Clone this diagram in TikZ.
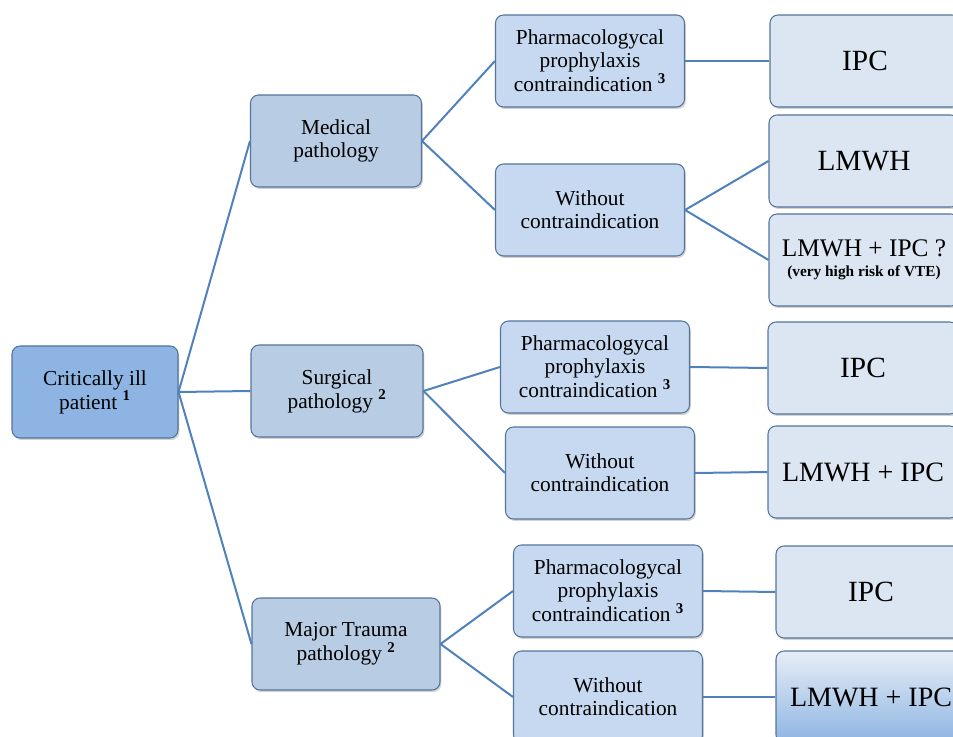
\documentclass[tikz,border=0pt]{standalone}
\usepackage{fontspec}
\setmainfont{Liberation Serif}
\usepackage{tikz}
\usetikzlibrary{shadows, positioning}
\definecolor{rootblue}{RGB}{141,180,226}
\definecolor{midblue}{RGB}{184,204,228}
\definecolor{leafblue}{RGB}{198,217,240}
\definecolor{outblue}{RGB}{220,230,242}
\definecolor{linkblue}{RGB}{79,129,189}
\definecolor{boxline}{RGB}{84,116,156}

\begin{document}
\begin{tikzpicture}[x=0.75pt, y=-0.75pt,
    font=\fontsize{16}{17}\selectfont,
    box/.style={rectangle, rounded corners=6pt, draw=boxline, line width=0.8pt,
                align=center, minimum height=69pt, inner sep=2pt,
                drop shadow={shadow xshift=1pt, shadow yshift=-1.5pt, opacity=0.35}},
    rootbox/.style={box, fill=rootblue, minimum width=124.5pt},
    groupbox/.style={box, fill=midblue},
    casebox/.style={box, fill=leafblue, minimum width=141.75pt},
    drugbox/.style={box, fill=outblue, minimum width=142.5pt,
                    font=\fontsize{22}{24}\selectfont},
    link/.style={draw=linkblue, line width=1.5pt}]
  \useasboundingbox (0,0) rectangle (953,737);
  \clip (0,0) rectangle (953,737);

  % root
  \node[rootbox] (patient) at (95,392) {Critically ill\\patient \textsuperscript{\bfseries 1}};

  % pathologies
  \node[groupbox, minimum width=128.25pt] (medical) at (336,141) {Medical\\pathology};
  \node[groupbox, minimum width=129pt] (surgical) at (337,391) {Surgical\\pathology \textsuperscript{\bfseries 2}};
  \node[groupbox, minimum width=141pt] (trauma) at (346,644) {Major Trauma\\pathology \textsuperscript{\bfseries 2}};

  % contraindication
  \node[casebox] (medci) at (590,61) {Pharmacologycal\\prophylaxis\\contraindication \textsuperscript{\bfseries 3}};
  \node[casebox] (medno) at (590,210) {Without\\contraindication};
  \node[casebox] (surci) at (595,367) {Pharmacologycal\\prophylaxis\\contraindication \textsuperscript{\bfseries 3}};
  \node[casebox] (surno) at (600,473) {Without\\contraindication};
  \node[casebox] (traci) at (608,591) {Pharmacologycal\\prophylaxis\\contraindication \textsuperscript{\bfseries 3}};
  \node[casebox] (trano) at (608,697) {Without\\contraindication};

  % prophylaxis
  \node[drugbox] (medipc) at (865,61) {IPC};
  \node[drugbox] (medlmwh) at (864,161) {LMWH};
  \node[drugbox, font=\fontsize{19}{18}\selectfont] (medboth) at (864,260)
    {LMWH + IPC ?\\[-3pt]{\fontsize{11.5}{12}\selectfont\bfseries (very high risk of VTE)}};
  \node[drugbox] (suripc) at (863,368) {IPC};
  \node[drugbox, font=\fontsize{21}{24}\selectfont] (surboth) at (863,472) {LMWH + IPC};
  \node[drugbox] (traipc) at (871,592) {IPC};
  \node[drugbox, font=\fontsize{21}{24}\selectfont, top color=outblue!70!white,
        bottom color=rootblue] (traboth) at (871,697) {LMWH + IPC};

  % connectors
  \foreach \a/\b in {patient/medical, patient/surgical, patient/trauma,
                     medical/medci, medical/medno, medci/medipc,
                     medno/medlmwh, medno/medboth,
                     surgical/surci, surgical/surno, surci/suripc, surno/surboth,
                     trauma/traci, trauma/trano, traci/traipc, trano/traboth}
    \draw[link] (\a.east) -- (\b.west);
\end{tikzpicture}
\end{document}
